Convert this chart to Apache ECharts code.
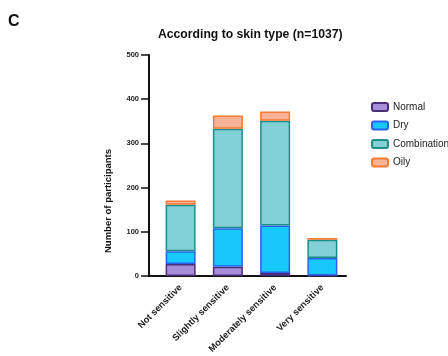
<!DOCTYPE html>
<html><head><meta charset="utf-8">
<script src="https://cdn.jsdelivr.net/npm/echarts@6/dist/echarts.min.js"></script>
<style>html,body{margin:0;padding:0;background:#fff}#c{width:448px;height:356px}</style>
</head><body><div id="c"></div>
<script>
const categories = ['Not sensitive', 'Slightly sensitive', 'Moderately sensitive', 'Very sensitive'];
const normal = [27, 21, 7, 1];
const dry = [29, 87, 107, 40];
const combination = [105, 225, 237, 41];
const oily = [10, 30, 21, 4];
const yTicks = [0, 100, 200, 300, 400, 500];

const chart = echarts.init(document.getElementById('c'));
const F = 'Liberation Sans, Arial, sans-serif';
function s(name, data, fill, border) {
  return { name, type: 'bar', stack: 'a', data, barWidth: 30,
    itemStyle: { color: fill, borderColor: border, borderWidth: 1.5 } };
}
chart.setOption({
  animation: false,
  textStyle: { fontFamily: F },
  title: [
    { text: 'C', left: 3, top: 9, padding: 5, textStyle: { fontSize: 16, fontWeight: 'bold', color: '#111', fontFamily: F } },
    { text: 'According to skin type (n=1037)', left: 153, top: 24, textStyle: { fontSize: 12.2, fontWeight: 'bold', color: '#111', fontFamily: F } }
  ],
  legend: {
    orient: 'vertical', left: 366, top: 97, itemWidth: 16, itemHeight: 8, itemGap: 8.5,
    textStyle: { fontSize: 10, color: '#222', fontFamily: F },
    data: ['Normal', 'Dry', 'Combination', 'Oily']
  },
  grid: { left: 157, top: 55, width: 189, height: 221 },
  xAxis: {
    type: 'category', data: categories,
    axisLine: { lineStyle: { color: '#111', width: 2 } },
    axisTick: { alignWithLabel: true, length: 6, lineStyle: { color: '#111', width: 1.5 } },
    axisLabel: { rotate: 45, fontSize: 9.3, fontWeight: 'bold', color: '#222', margin: 10, interval: 0 }
  },
  yAxis: {
    type: 'value', min: 0, max: 500, interval: 100, offset: 8,
    axisLine: { show: true, lineStyle: { color: '#111', width: 2 } },
    axisTick: { show: true, length: 8, lineStyle: { color: '#111', width: 1.5 } },
    axisLabel: { fontSize: 7.5, fontWeight: 'bold', color: '#222', margin: 10,
      formatter: v => yTicks.includes(v) ? String(v) : '' },
    splitLine: { show: false }
  },
  graphic: [
    { type: 'line', shape: { x1: 148, y1: 276, x2: 158, y2: 276 }, style: { stroke: '#111', lineWidth: 2 } },
    { type: 'text', x: 108, y: 201, rotation: Math.PI / 2,
      style: { text: 'Number of participants', fontSize: 9.5, fontWeight: 'bold', fill: '#111', fontFamily: F,
        textAlign: 'center', textVerticalAlign: 'middle' } }
  ],
  series: [
    s('Normal', normal, '#a68fd8', '#4a2d78'),
    s('Dry', dry, '#17c9fb', '#2a62ee'),
    s('Combination', combination, '#80d0d5', '#1f8d8e'),
    s('Oily', oily, '#f8b296', '#f57a32')
  ]
});
</script></body></html>
